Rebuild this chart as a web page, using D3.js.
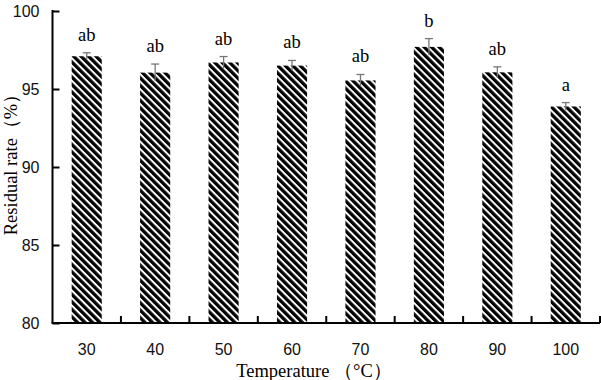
<!DOCTYPE html>
<html>
<head>
<meta charset="utf-8">
<script src="https://cdn.jsdelivr.net/npm/d3@7"></script>
<style>
  body { margin: 0; background: #fff; }
  .chart text { fill: #000; }
</style>
</head>
<body>
<div class="chart"></div>
<script>
// data
const temps = ["30", "40", "50", "60", "70", "80", "90", "100"];
const residual = [97.1, 96.05, 96.7, 96.5, 95.55, 97.7, 96.07, 93.88];
const errors = [0.22, 0.55, 0.38, 0.33, 0.38, 0.53, 0.35, 0.25];
const letters = ["ab", "ab", "ab", "ab", "ab", "b", "ab", "a"];
const yTicks = [80, 85, 90, 95, 100];

const w = 601, h = 380;
const padLeft = 52.5, padRight = 600, padTop = 11, padBottom = 323;

const svg = d3.select(".chart")
  .append("svg")
  .attr("width", w)
  .attr("height", h);

/* striped fill for the bars */
const pat = svg.append("defs").append("pattern")
  .attr("id", "stripes")
  .attr("patternUnits", "userSpaceOnUse")
  .attr("width", 5.3)
  .attr("height", 5.3)
  .attr("patternTransform", "rotate(-45)");
pat.append("rect").attr("width", 5.3).attr("height", 5.3).attr("fill", "#fff");
pat.append("rect").attr("x", 0).attr("width", 3.3).attr("height", 5.3).attr("fill", "#000");

const xScale = d3.scaleBand()
  .domain(temps)
  .range([padLeft, padRight])
  .paddingInner(0.56)
  .paddingOuter(0.28);

const yScale = d3.scaleLinear()
  .domain([80, 100])
  .range([padBottom, padTop]);

// bars
svg.selectAll("rect.bar")
  .data(temps)
  .enter()
  .append("rect")
  .attr("class", "bar")
  .attr("x", d => xScale(d))
  .attr("y", (d, i) => yScale(residual[i]))
  .attr("width", xScale.bandwidth())
  .attr("height", (d, i) => padBottom - yScale(residual[i]))
  .attr("fill", "url(#stripes)");

// error bars
const eb = svg.selectAll("g.err")
  .data(temps)
  .enter()
  .append("g")
  .attr("class", "err")
  .attr("stroke", "#777")
  .attr("stroke-width", 1.3);

eb.append("line")
  .attr("x1", d => xScale(d) + xScale.bandwidth() / 2)
  .attr("x2", d => xScale(d) + xScale.bandwidth() / 2)
  .attr("y1", (d, i) => yScale(residual[i] + errors[i]))
  .attr("y2", (d, i) => yScale(residual[i] - errors[i]));

eb.append("line")
  .attr("x1", d => xScale(d) + xScale.bandwidth() / 2 - 4)
  .attr("x2", d => xScale(d) + xScale.bandwidth() / 2 + 4)
  .attr("y1", (d, i) => yScale(residual[i] + errors[i]))
  .attr("y2", (d, i) => yScale(residual[i] + errors[i]));

// significance letters
svg.selectAll("text.sig")
  .data(temps)
  .enter()
  .append("text")
  .attr("class", "sig")
  .attr("x", d => xScale(d) + xScale.bandwidth() / 2)
  .attr("y", (d, i) => yScale(residual[i] + errors[i]) - 12)
  .attr("text-anchor", "middle")
  .style("font-family", "'Liberation Serif', 'Times New Roman', serif")
  .style("font-size", "18.5px")
  .text((d, i) => letters[i]);

/* axes */
const yAxis = d3.axisRight(yScale)
  .tickValues(yTicks)
  .tickSize(7)
  .tickFormat(d3.format("d"));

const yG = svg.append("g")
  .attr("transform", "translate(" + padLeft + ",0)")
  .call(yAxis);
yG.select(".domain").attr("d", "M0," + (padTop - 1) + "V" + padBottom).attr("stroke-width", 2).attr("stroke", "#000");
yG.selectAll(".tick line").attr("stroke-width", 2).attr("stroke", "#000");
yG.selectAll(".tick text")
  .attr("x", -13)
  .attr("dy", "0.35em")
  .attr("text-anchor", "end")
  .style("font-family", "'Liberation Sans', Arial, sans-serif")
  .style("font-size", "16px")
  .style("fill", "#111");

// x axis: ticks between categories, pointing up
const bounds = temps.map((d, i) => padLeft + (i + 1) * xScale.step());
const xG = svg.append("g");
xG.append("line")
  .attr("x1", padLeft - 1).attr("x2", padRight)
  .attr("y1", padBottom).attr("y2", padBottom)
  .attr("stroke", "#000").attr("stroke-width", 2);
xG.selectAll("line.tk")
  .data(bounds)
  .enter()
  .append("line")
  .attr("class", "tk")
  .attr("x1", d => d).attr("x2", d => d)
  .attr("y1", padBottom).attr("y2", padBottom - 7)
  .attr("stroke", "#000").attr("stroke-width", 2);
xG.selectAll("text")
  .data(temps)
  .enter()
  .append("text")
  .attr("x", d => xScale(d) + xScale.bandwidth() / 2)
  .attr("y", 355)
  .attr("text-anchor", "middle")
  .style("font-family", "'Liberation Sans', Arial, sans-serif")
  .style("font-size", "16px")
  .style("fill", "#111")
  .text(d => d);

// axis titles
svg.append("text")
  .attr("x", 314)
  .attr("y", 377)
  .attr("text-anchor", "middle")
  .style("font-family", "'Liberation Serif', 'Times New Roman', serif")
  .style("font-size", "18.5px")
  .text("Temperature （°C）");

svg.append("text")
  .attr("transform", "translate(17,160) rotate(-90)")
  .attr("text-anchor", "middle")
  .style("font-family", "'Liberation Serif', 'Times New Roman', serif")
  .style("font-size", "18.5px")
  .text("Residual rate（%）");
</script>
</body>
</html>
